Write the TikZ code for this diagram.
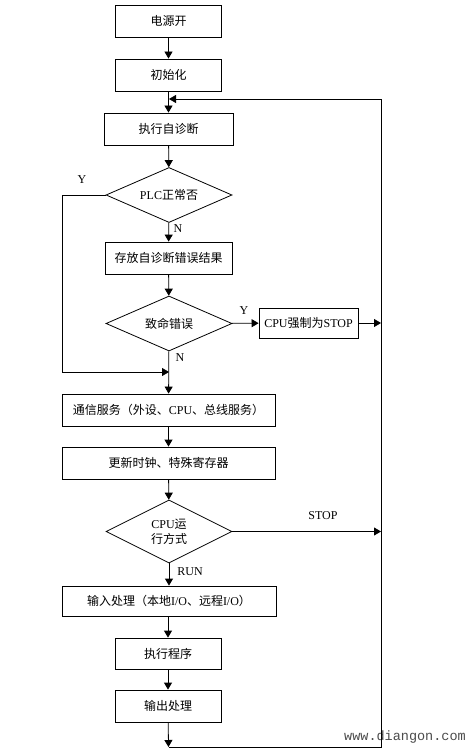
\documentclass[tikz,border=0pt]{standalone}
\usepackage{fontspec}
\setmainfont{Liberation Serif}
\newfontfamily\cjk{Noto Sans CJK SC}
\newfontfamily\wmfont{Liberation Mono}
\usetikzlibrary{shapes.geometric,arrows.meta}
\begin{document}
\begin{tikzpicture}[x=1pt,y=-1pt,
  every node/.style={font=\fontsize{12}{15}\selectfont},
  box/.style={draw,line width=0.8pt,rectangle,inner sep=0pt},
  dia/.style={draw,line width=0.8pt,diamond,shape aspect=2.3,inner sep=0pt,minimum width=126pt},
  arr/.style={line width=0.8pt,-{Triangle[length=7pt,width=8pt]}},
  ln/.style={line width=0.8pt},
  lab/.style={inner sep=0pt}]
\useasboundingbox[fill=white] (0,0) rectangle (475,749);
\node[box,minimum width=106pt,minimum height=32pt] (b1) at (168.5,21) {\cjk 电源开};
\node[box,minimum width=106pt,minimum height=32pt] (b2) at (168.5,75) {\cjk 初始化};
\node[box,minimum width=129pt,minimum height=32pt] (b3) at (168.5,129) {\cjk 执行自诊断};
\node[dia,minimum height=55pt] (d1) at (169,195) {PLC{\cjk 正常否}};
\node[box,minimum width=127pt,minimum height=32pt] (b4) at (168.5,258) {\cjk 存放自诊断错误结果};
\node[dia,minimum height=55pt] (d2) at (169,323.5) {\cjk 致命错误};
\node[box,minimum width=99pt,minimum height=30pt] (b5) at (308.5,323) {CPU{\cjk 强制为}STOP};
\node[box,minimum width=213pt,minimum height=32pt] (b6) at (168.5,410) {{\cjk 通信服务（外设、}CPU{\cjk 、总线服务）}};
\node[box,minimum width=213pt,minimum height=32pt] (b7) at (168.5,463) {\cjk 更新时钟、特殊寄存器};
\node[dia,minimum height=63pt,align=center] (d3) at (169,531.5) {CPU{\cjk 运}\\{\cjk 行方式}};
\node[box,minimum width=214pt,minimum height=30pt] (b8) at (169,601) {{\cjk 输入处理（本地}I/O{\cjk 、远程}I/O{\cjk ）}};
\node[box,minimum width=106pt,minimum height=31pt] (b9) at (168,653.5) {\cjk 执行程序};
\node[box,minimum width=106pt,minimum height=32pt] (b10) at (168,706) {\cjk 输出处理};
% labels
\node[lab] (ly1) at (82,180) {Y};
\node[lab] (ln1) at (178,229) {N};
\node[lab] (ly2) at (244,311) {Y};
\node[lab] (ln2) at (180,358) {N};
\node[lab] (lstop) at (323,516) {STOP};
\node[lab] (lrun) at (190,572) {RUN};
\node[lab,text=black!70] (wm) at (405,737) {\wmfont\fontsize{13.5}{15}\selectfont www.diangon.com};
% coordinates
\coordinate (tl) at (169,99);
\coordinate (tr) at (381,99);
\coordinate (br) at (381,747);
\coordinate (bl) at (168.5,747);
\coordinate (s1) at (381,323);
\coordinate (s2) at (381,531.5);
\coordinate (yl) at (62,372);
\coordinate (m) at (169,372);
% connectors
\draw[arr] (b1) -- (b2);
\draw[arr] (b2) -- (b3);
\draw[arr] (b3) -- (d1);
\draw[arr] (d1) -- (b4);
\draw[arr] (b4) -- (d2);
\draw[arr] (d2) -- (b5);
\draw[arr] (b5) -- (s1);
\draw[arr] (d1.west) -| (yl) -- (m);
\draw[arr] (d2) -- (b6);
\draw[arr] (b6) -- (b7);
\draw[arr] (b7) -- (d3);
\draw[arr] (d3) -- (s2);
\draw[arr] (d3) -- (b8);
\draw[arr] (b8.south -| b9) -- (b9);
\draw[arr] (b9) -- (b10);
\draw[arr] (b10) -- (bl);
\draw[arr] (bl) -- (br) -- (tr) -- (tl);
\end{tikzpicture}
\end{document}
